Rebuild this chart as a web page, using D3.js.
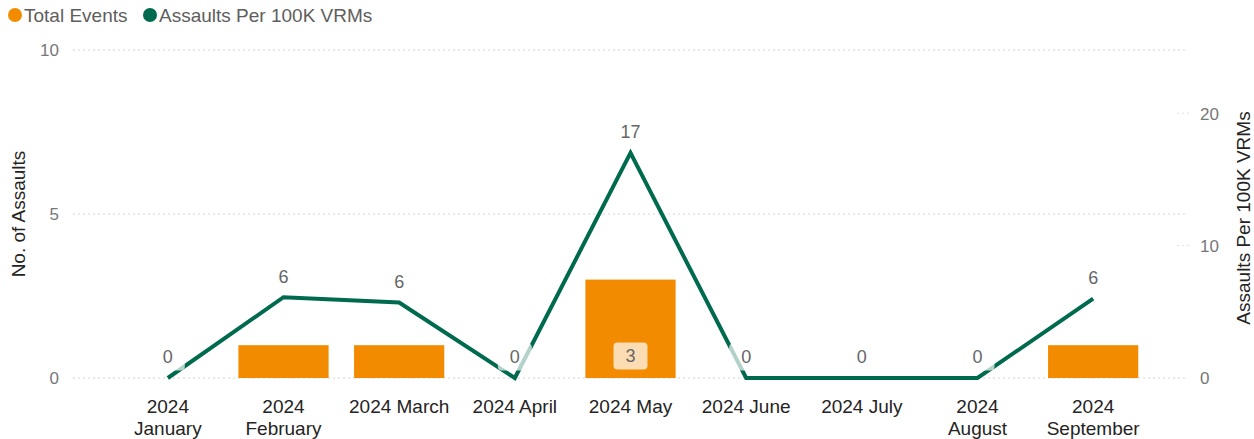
<!DOCTYPE html>
<html>
<head>
<meta charset="utf-8">
<script src="https://cdn.jsdelivr.net/npm/d3@7"></script>
<style>
  body { margin: 0; background: #fff; }
  svg { display: block; font-family: "Liberation Sans", Arial, sans-serif; }
</style>
</head>
<body>
<div id="wrapper"></div>
<script>
// chart values
const months = ["2024 January", "2024 February", "2024 March", "2024 April", "2024 May",
                "2024 June", "2024 July", "2024 August", "2024 September"];
const monthLines = [["2024", "January"], ["2024", "February"], ["2024 March"], ["2024 April"], ["2024 May"],
                    ["2024 June"], ["2024 July"], ["2024", "August"], ["2024", "September"]];
const totalEvents = [0, 1, 1, 0, 3, 0, 0, 0, 1];
const assaultRate = [0, 6.1, 5.7, 0, 17, 0, 0, 0, 6.0];
const leftTicks = [0, 5, 10];
const rightTicks = [0, 10, 20];
const legendItems = ["Total Events", "Assaults Per 100K VRMs"];

const W = 1254, H = 439;
const orange = "#f28b00", green = "#006a4e";

const svg = d3.select("#wrapper").append("svg").attr("width", W).attr("height", H);

const x = d3.scaleBand().domain(months).range([110, 1151]).paddingInner(0.22).paddingOuter(0.11);
const y = d3.scaleLinear().domain([0, 10]).range([378, 50]);
const y2 = d3.scaleLinear().domain([0, 24.77]).range([378, 50]);

// gridlines
svg.append("g").selectAll("line").data(leftTicks).enter().append("line")
  .attr("x1", 73).attr("x2", 1187)
  .attr("y1", d => y(d)).attr("y2", d => y(d))
  .attr("stroke", "#d4d4d4").attr("stroke-width", 1).attr("stroke-dasharray", "2,3");
svg.append("g").selectAll("line").data(rightTicks.filter(d => d > 0)).enter().append("line")
  .attr("x1", 1177).attr("x2", 1190)
  .attr("y1", d => y2(d)).attr("y2", d => y2(d))
  .attr("stroke", "#e2e2e2").attr("stroke-width", 1).attr("stroke-dasharray", "2,3");

// axes
const leftAxis = svg.append("g").attr("transform", "translate(59,0)")
  .call(d3.axisLeft(y).tickValues(leftTicks).tickSize(0).tickPadding(0));
leftAxis.select(".domain").remove();
leftAxis.selectAll("text").attr("fill", "#777").style("font-size", "17px").attr("dy", "0.35em");

const rightAxis = svg.append("g").attr("transform", "translate(1200,0)")
  .call(d3.axisRight(y2).tickValues(rightTicks).tickSize(0).tickPadding(0));
rightAxis.select(".domain").remove();
rightAxis.selectAll("text").attr("fill", "#777").style("font-size", "17px").attr("dy", "0.35em");

const xAxis = svg.append("g").attr("transform", "translate(0,378)")
  .call(d3.axisBottom(x).tickSize(0).tickFormat(""));
xAxis.select(".domain").remove();
xAxis.selectAll(".tick").each(function(d, i) {
  const t = d3.select(this).append("text").attr("fill", "#252423")
    .style("font-size", "19px").attr("text-anchor", "middle");
  monthLines[i].forEach((ln, j) => {
    t.append("tspan").attr("x", 0).attr("y", 35 + j * 22).text(ln);
  });
});

// axis titles
svg.append("text").attr("transform", "translate(25,214) rotate(-90)")
  .attr("text-anchor", "middle").attr("fill", "#252423").style("font-size", "19px")
  .text("No. of Assaults");
svg.append("text").attr("transform", "translate(1250,218) rotate(-90)")
  .attr("text-anchor", "middle").attr("fill", "#252423").style("font-size", "19px")
  .text("Assaults Per 100K VRMs");

// bars
svg.append("g").selectAll("rect").data(totalEvents).enter().append("rect")
  .attr("x", (d, i) => x(months[i]))
  .attr("width", x.bandwidth())
  .attr("y", d => y(d))
  .attr("height", d => y(0) - y(d))
  .attr("fill", orange);

// line
const line = d3.line().x((d, i) => x(months[i]) + x.bandwidth() / 2).y(d => y2(d));
svg.append("path").datum(assaultRate)
  .attr("d", line).attr("fill", "none")
  .attr("stroke", green).attr("stroke-width", 4).attr("stroke-linejoin", "miter");

// labels with translucent backgrounds
const fmt = d3.format(".0f");
function label(cx, cy, txt) {
  const g = svg.append("g").attr("transform", `translate(${cx},${cy})`);
  const w = Math.max(34, txt.length * 10 + 14);
  g.append("rect").attr("x", -w / 2).attr("y", -13.5).attr("width", w).attr("height", 27)
    .attr("rx", 4).attr("fill", "#fff").attr("fill-opacity", 0.7);
  g.append("text").attr("text-anchor", "middle").attr("dy", "0.35em")
    .attr("fill", "#666").style("font-size", "18px").text(txt);
}
totalEvents.forEach((d, i) => {
  if (d >= 2) label(x(months[i]) + x.bandwidth() / 2, y(0) - 22, fmt(d));
});
assaultRate.forEach((d, i) => {
  label(x(months[i]) + x.bandwidth() / 2, y2(d) - 21, fmt(d));
});

// legend
const legendX = [15, 150];
const lg = svg.append("g");
legendItems.forEach((name, i) => {
  lg.append("circle").attr("cx", legendX[i]).attr("cy", 15).attr("r", 7)
    .attr("fill", i === 0 ? orange : green);
  lg.append("text").attr("x", legendX[i] + 9).attr("y", 15).attr("dy", "0.35em")
    .attr("fill", "#605e5c").style("font-size", "19px").text(name);
});
</script>
</body>
</html>
